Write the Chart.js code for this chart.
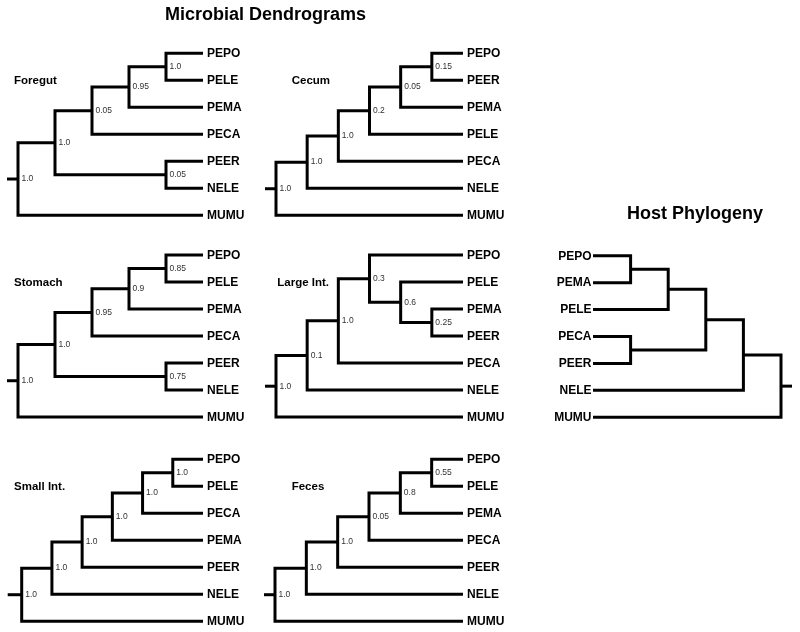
<!DOCTYPE html>
<html>
<head>
<meta charset="utf-8">
<style>
  html, body { margin: 0; padding: 0; background: #fff; }
  #wrap { position: relative; width: 800px; height: 632px; }
  canvas { display: block; }
</style>
<script src="https://cdn.jsdelivr.net/npm/chart.js@4.4.1/dist/chart.umd.min.js"></script>
</head>
<body>
<div id="wrap"><canvas id="c" width="800" height="632"></canvas></div>
<script>
// ---- DATA: trees as nested [left, right, support] arrays; leaves are names ----
const foregutTree  = [[[[['PEPO','PELE','1.0'],'PEMA','0.95'],'PECA','0.05'],['PEER','NELE','0.05'],'1.0'],'MUMU','1.0'];
const cecumTree    = [[[[[['PEPO','PEER','0.15'],'PEMA','0.05'],'PELE','0.2'],'PECA','1.0'],'NELE','1.0'],'MUMU','1.0'];
const stomachTree  = [[[[['PEPO','PELE','0.85'],'PEMA','0.9'],'PECA','0.95'],['PEER','NELE','0.75'],'1.0'],'MUMU','1.0'];
const largeIntTree = [[[['PEPO',['PELE',['PEMA','PEER','0.25'],'0.6'],'0.3'],'PECA','1.0'],'NELE','0.1'],'MUMU','1.0'];
const smallIntTree = [[[[[['PEPO','PELE','1.0'],'PECA','1.0'],'PEMA','1.0'],'PEER','1.0'],'NELE','1.0'],'MUMU','1.0'];
const fecesTree    = [[[[[['PEPO','PELE','0.55'],'PEMA','0.8'],'PECA','0.05'],'PEER','1.0'],'NELE','1.0'],'MUMU','1.0'];
const hostTree     = [[[[['PEPO','PEMA',''],'PELE',''],['PECA','PEER',''],''],'NELE',''],'MUMU',''];

const panelTitles = ['Foregut','Cecum','Stomach','Large Int.','Small Int.','Feces'];
const mainTitles  = ['Microbial Dendrograms','Host Phylogeny'];

// ---- LAYOUT (positions / styles only) ----
const W = 800, H = 632;
const panels = [
  { id:'fg', tree: foregutTree,  title: panelTitles[0], rootX: 18,   leafX: 203, topY: 53.3,  rowH: 27,    titleX: 14,    stub: 11 },
  { id:'ce', tree: cecumTree,    title: panelTitles[1], rootX: 276,  leafX: 463, topY: 53.3,  rowH: 27,    titleX: 291.7, stub: 11 },
  { id:'st', tree: stomachTree,  title: panelTitles[2], rootX: 18,   leafX: 203, topY: 255,   rowH: 27,    titleX: 14,    stub: 11 },
  { id:'li', tree: largeIntTree, title: panelTitles[3], rootX: 276,  leafX: 463, topY: 255,   rowH: 27,    titleX: 277.3, stub: 11 },
  { id:'si', tree: smallIntTree, title: panelTitles[4], rootX: 21.7, leafX: 203, topY: 459.3, rowH: 27,    titleX: 14,    stub: 14 },
  { id:'fe', tree: fecesTree,    title: panelTitles[5], rootX: 275,  leafX: 463, topY: 459.3, rowH: 27,    titleX: 291.7, stub: 11 },
  { id:'ho', tree: hostTree,     title: null,           rootX: 781,  leafX: 593, topY: 255.7, rowH: 26.93, host: true,    stub: 11 }
];

// ---- tree layout: y = leaf row, x = depth (maxHeight - height) ----
function buildTree(tree) {
  let row = 0;
  const leaves = [], inner = [];
  function walk(n) {
    if (typeof n === 'string') { const o = { leaf: true, name: n, y: row++, h: 0 }; leaves.push(o); return o; }
    const a = walk(n[0]), b = walk(n[1]);
    const o = { leaf: false, a, b, label: n[2], y: (a.y + b.y) / 2, h: Math.max(a.h, b.h) + 1 };
    inner.push(o);
    return o;
  }
  const root = walk(tree);
  const Hmax = root.h;
  [...leaves, ...inner].forEach(o => o.x = Hmax - o.h);
  return { root, leaves, inner, Hmax };
}

const scales = {};
const datasets = [];
const built = [];
panels.forEach(p => {
  const t = buildTree(p.tree);
  built.push(t);
  const ppu = Math.abs(p.leafX - p.rootX) / t.Hmax;
  let xs;
  if (!p.host) {
    const min = -p.rootX / ppu;
    xs = { type: 'linear', display: false, min: min, max: min + W / ppu };
  } else {
    const max = p.rootX / ppu;
    xs = { type: 'linear', display: false, reverse: true, min: max - W / ppu, max: max };
  }
  const ymin = -p.topY / p.rowH;
  scales['x_' + p.id] = xs;
  scales['y_' + p.id] = { type: 'linear', display: false, reverse: true, min: ymin, max: ymin + H / p.rowH };
  const common = {
    xAxisID: 'x_' + p.id, yAxisID: 'y_' + p.id,
    showLine: true, pointRadius: 0, pointHoverRadius: 0,
    borderColor: '#000', borderWidth: 3, borderJoinStyle: 'miter', borderCapStyle: 'butt',
    backgroundColor: '#000', fill: false, clip: false, tension: 0
  };
  t.inner.forEach(n => {
    datasets.push(Object.assign({}, common, {
      data: [ { x: n.a.x, y: n.a.y }, { x: n.x, y: n.a.y }, { x: n.x, y: n.b.y }, { x: n.b.x, y: n.b.y } ]
    }));
  });
  datasets.push(Object.assign({}, common, {
    data: [ { x: -p.stub / ppu, y: t.root.y }, { x: 0, y: t.root.y } ]
  }));
});

const textPlugin = {
  id: 'treeText',
  afterDraw(chart) {
    const ctx = chart.ctx;
    ctx.save();
    panels.forEach((p, i) => {
      const t = built[i];
      const sx = chart.scales['x_' + p.id], sy = chart.scales['y_' + p.id];
      ctx.fillStyle = '#000';
      ctx.font = 'bold 12px "Liberation Sans", Arial, sans-serif';
      ctx.textBaseline = 'middle';
      t.leaves.forEach(l => {
        const px = sx.getPixelForValue(l.x), py = sy.getPixelForValue(l.y);
        if (p.host) { ctx.textAlign = 'right'; ctx.fillText(l.name, px - 1.5, py + 0.5); }
        else { ctx.textAlign = 'left'; ctx.fillText(l.name, px + 4, py + 0.5); }
      });
      ctx.fillStyle = '#333';
      ctx.font = '8.5px "Liberation Sans", Arial, sans-serif';
      ctx.textAlign = 'left';
      t.inner.forEach(n => {
        if (!n.label) return;
        ctx.fillText(n.label, sx.getPixelForValue(n.x) + 3.5, sy.getPixelForValue(n.y));
      });
      if (p.title) {
        ctx.fillStyle = '#000';
        ctx.font = 'bold 11.5px "Liberation Sans", Arial, sans-serif';
        ctx.fillText(p.title, p.titleX, sy.getPixelForValue(1) + 0.5);
      }
    });
    ctx.fillStyle = '#000';
    ctx.font = 'bold 18px "Liberation Sans", Arial, sans-serif';
    ctx.textAlign = 'left';
    ctx.textBaseline = 'middle';
    ctx.fillText(mainTitles[0], 165, 15.5);
    ctx.textAlign = 'center';
    ctx.fillText(mainTitles[1], 695, 214);
    ctx.restore();
  }
};

new Chart(document.getElementById('c'), {
  type: 'scatter',
  data: { datasets },
  options: {
    responsive: false,
    animation: false,
    events: [],
    layout: { padding: 0 },
    plugins: { legend: { display: false }, tooltip: { enabled: false }, title: { display: false } },
    scales
  },
  plugins: [textPlugin]
});
</script>
</body>
</html>
